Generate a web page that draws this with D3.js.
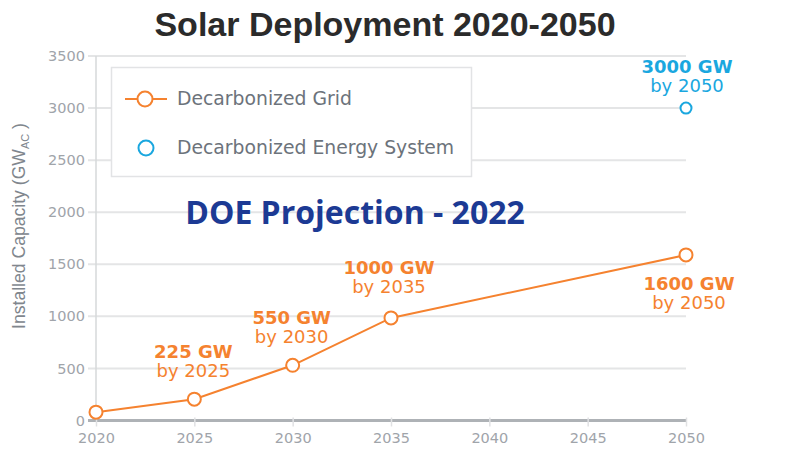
<!DOCTYPE html>
<html><head><meta charset="utf-8">
<script src="https://d3js.org/d3.v7.min.js"></script>
<style>
html,body{margin:0;padding:0;background:#fff;}
svg{display:block;}
</style></head>
<body>
<script>
const title = "Solar Deployment 2020-2050";
const years = [2020, 2025, 2030, 2035, 2050];
const gridValues = [80, 205, 530, 985, 1590];
const systemYears = [2050];
const systemValues = [3000];
const xTicks = [2020, 2025, 2030, 2035, 2040, 2045, 2050];
const yTicks = [0, 500, 1000, 1500, 2000, 2500, 3000, 3500];
const seriesNames = ["Decarbonized Grid", "Decarbonized Energy System"];
const annotations = [
  {year: 2025, value: 205, top: "225 GW", bottom: "by 2025", series: 0},
  {year: 2030, value: 530, top: "550 GW", bottom: "by 2030", series: 0},
  {year: 2035, value: 985, top: "1000 GW", bottom: "by 2035", series: 0},
  {year: 2050, value: 1590, top: "1600 GW", bottom: "by 2050", series: 0},
  {year: 2050, value: 3000, top: "3000 GW", bottom: "by 2050", series: 1}
];
const overlayText = "DOE Projection - 2022";

const W = 806, H = 462;
const orange = "#f5822f", blue = "#1aa7df";
const colors = [orange, blue];
const font = "'DejaVu Sans', sans-serif";
const font2 = "'Liberation Sans', Arial, sans-serif";

const svg = d3.select("body").append("svg").attr("width", W).attr("height", H);

const x = d3.scaleLinear().domain([2020, 2050]).range([96, 686]);
const y = d3.scaleLinear().domain([0, 3500]).range([420.5, 56]);

// gridlines
svg.append("g").selectAll("line").data(yTicks.filter(d => d > 0)).join("line")
  .attr("x1", 88).attr("x2", x(2050))
  .attr("y1", d => y(d)).attr("y2", d => y(d))
  .attr("stroke", "#e4e5e6").attr("stroke-width", 2);

// y axis line
svg.append("line").attr("x1", x(2020)).attr("x2", x(2020))
  .attr("y1", y(3500)).attr("y2", y(0))
  .attr("stroke", "#d6d8da").attr("stroke-width", 1.5);

// y axis labels
const yAxis = d3.axisLeft(y).tickValues(yTicks).tickSize(0).tickPadding(0).tickFormat(d3.format("d"));
const yg = svg.append("g").attr("transform", "translate(85,0)").call(yAxis);
yg.select(".domain").remove();
yg.selectAll("text").attr("font-family", font).attr("font-size", 14.5).attr("fill", "#a0a4aa");

// x axis baseline
svg.append("line").attr("x1", 88).attr("x2", x(2050))
  .attr("y1", y(0)).attr("y2", y(0))
  .attr("stroke", "#aeb2b6").attr("stroke-width", 3);

const xAxis = d3.axisBottom(x).tickValues(xTicks).tickSize(6).tickPadding(6).tickFormat(d3.format("d"));
const xg = svg.append("g").attr("transform", `translate(0,${y(0)})`).call(xAxis);
xg.select(".domain").remove();
xg.selectAll("line").attr("stroke", "#e0e1e3").attr("stroke-width", 1.5).attr("y1", -3);
xg.selectAll("text").attr("font-family", font).attr("font-size", 14.5).attr("fill", "#a0a4aa");

// y label
const yl = svg.append("text").attr("transform", "translate(25,226) rotate(-90)")
  .attr("text-anchor", "middle").attr("font-family", font2).attr("font-size", 17.6).attr("fill", "#80868d");
yl.append("tspan").text("Installed Capacity (GW");
yl.append("tspan").attr("font-size", 11).attr("dy", 4).text("AC");
yl.append("tspan").attr("dy", -4).text(" )");

// title
svg.append("text").attr("x", 385).attr("y", 36).attr("text-anchor", "middle")
  .attr("font-family", font2).attr("font-size", 34).attr("font-weight", "bold")
  .attr("fill", "#2b2b2b").text(title);

// legend
const lg = svg.append("g");
lg.append("rect").attr("x", 111.5).attr("y", 67.5).attr("width", 360).attr("height", 109)
  .attr("fill", "#fff").attr("stroke", "#e2e3e5").attr("stroke-width", 1.5);
lg.append("line").attr("x1", 125).attr("x2", 167).attr("y1", 99).attr("y2", 99)
  .attr("stroke", orange).attr("stroke-width", 2);
lg.append("circle").attr("cx", 145).attr("cy", 99).attr("r", 7.5)
  .attr("fill", "#fff").attr("stroke", orange).attr("stroke-width", 2);
lg.append("circle").attr("cx", 146).attr("cy", 148).attr("r", 7.5)
  .attr("fill", "#fff").attr("stroke", blue).attr("stroke-width", 2);
lg.selectAll("text.leg").data(seriesNames).join("text").attr("class", "leg")
  .attr("x", 177).attr("y", (d, i) => 105 + i * 49)
  .attr("font-family", font).attr("font-size", 18.8).attr("fill", "#6c737b").text(d => d);

// overlay text
svg.append("text").attr("x", 355).attr("y", 224).attr("text-anchor", "middle")
  .attr("font-family", "'Open Sans', sans-serif").attr("font-weight", "bold").attr("font-size", 32)
  .attr("fill", "#1c3a94").text(overlayText);

// line
const lineGen = d3.line().x((d, i) => x(years[i])).y(d => y(d));
svg.append("path").datum(gridValues).attr("d", lineGen)
  .attr("fill", "none").attr("stroke", orange).attr("stroke-width", 2);
svg.append("g").selectAll("circle").data(gridValues).join("circle")
  .attr("cx", (d, i) => x(years[i])).attr("cy", d => y(d)).attr("r", 6.5)
  .attr("fill", "#fff").attr("stroke", orange).attr("stroke-width", 2);
svg.append("g").selectAll("circle").data(systemValues).join("circle")
  .attr("cx", (d, i) => x(systemYears[i])).attr("cy", d => y(d)).attr("r", 5.5)
  .attr("fill", "#fff").attr("stroke", blue).attr("stroke-width", 2);

// annotations: offsets relative to the point
const offs = {
  "2025-0": [-1, -41], "2030-0": [-1, -41], "2035-0": [-2, -44],
  "2050-0": [3, 35], "2050-1": [1, -35]
};
annotations.forEach(a => {
  const o = offs[a.year + "-" + a.series];
  const cx = x(a.year) + o[0], cy = y(a.value) + o[1];
  const g = svg.append("g").attr("font-family", font).attr("fill", colors[a.series]).attr("text-anchor", "middle");
  g.append("text").attr("x", cx).attr("y", cy).attr("font-size", 18).attr("font-weight", "bold").text(a.top);
  g.append("text").attr("x", cx).attr("y", cy + 19).attr("font-size", 18).text(a.bottom);
});
</script>
</body></html>
